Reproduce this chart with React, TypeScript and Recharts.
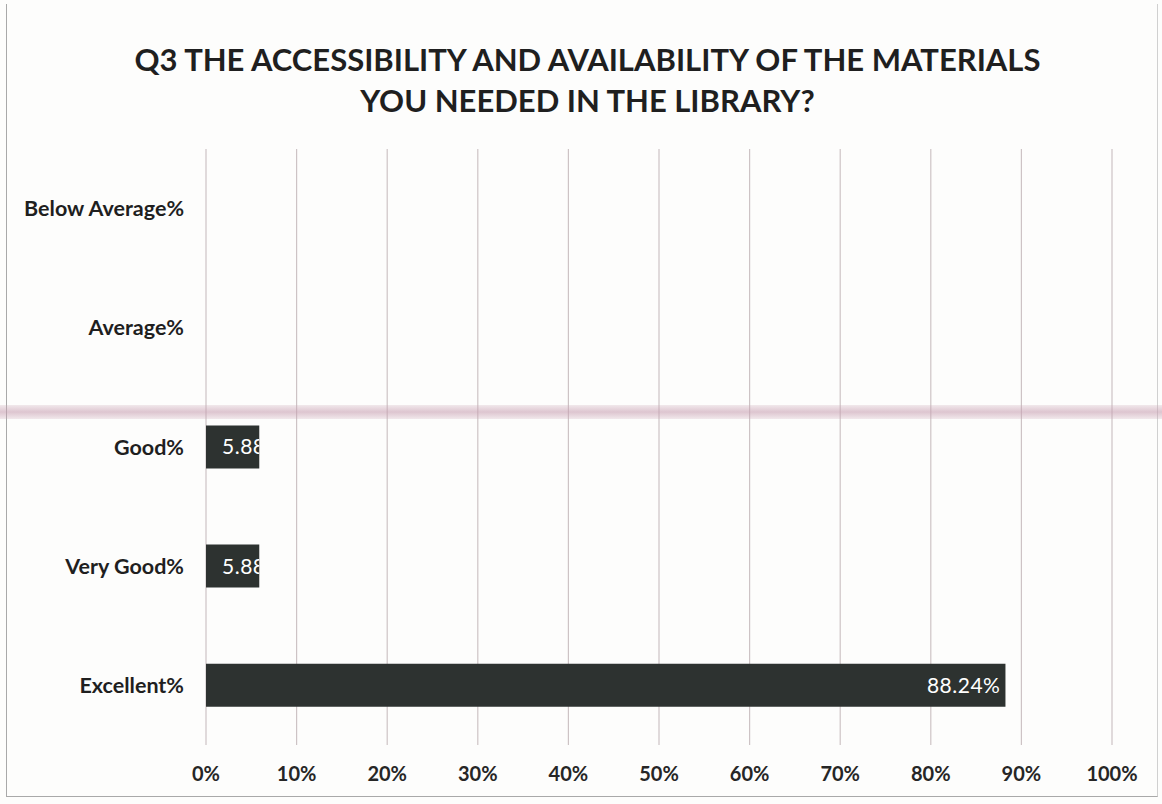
import { BarChart, Bar, XAxis, YAxis, CartesianGrid, LabelList } from "recharts";

const categories = ["Below Average%", "Average%", "Good%", "Very Good%", "Excellent%"];
const percents = [0, 0, 5.88, 5.88, 88.24];
const xTicks = [0, 10, 20, 30, 40, 50, 60, 70, 80, 90, 100];

const titleLines = [
    "Q3 THE ACCESSIBILITY AND AVAILABILITY OF THE MATERIALS",
    "YOU NEEDED IN THE LIBRARY?",
];

const rows = categories.map((name, i) => ({ name, value: percents[i] }));

const FONT = "Lato, 'Open Sans', sans-serif";
const BAR = "#2d3230";

// Excel-style inside-end label; when the bar is too short the text starts
// near the bar's left edge and gets cut off by the bar
function BarLabel(props: any) {
    const { x, y, width, height, value, index } = props;
    if (!value) return null;
    const text = `${Number(value).toFixed(2)}%`;
    const approx = text.length * 12;
    const cy = y + height / 2;
    if (approx + 10 < width) {
        return (
            <text
                x={x + width - 5}
                y={cy}
                dy="0.36em"
                textAnchor="end"
                fill="#fff"
                fontSize={21}
                fontFamily={FONT}
                letterSpacing={0.5}
            >
                {text}
            </text>
        );
    }
    const id = `lbl-clip-${index}`;
    return (
        <g>
            <defs>
                <clipPath id={id}>
                    <rect x={x} y={y} width={width} height={height} />
                </clipPath>
            </defs>
            <text
                x={x + 16}
                y={cy}
                dy="0.36em"
                textAnchor="start"
                fill="#fff"
                fontSize={21}
                fontFamily={FONT}
                letterSpacing={0.5}
                clipPath={`url(#${id})`}
            >
                {text}
            </text>
        </g>
    );
}

export default function App() {
    return (
        <div
            style={{
                position: "absolute",
                left: 0,
                top: 0,
                width: 1162,
                height: 804,
                background: "#fdfdfc",
                overflow: "hidden",
            }}
        >
            <div
                style={{
                    position: "absolute",
                    left: 6,
                    top: 4,
                    width: 1150,
                    height: 792,
                    borderLeft: "1px solid #a9a9a9",
                    borderBottom: "1px solid #a9a9a9",
                    borderRight: "1px solid #d0d0d0",
                }}
            />
            <div
                style={{
                    position: "absolute",
                    left: 0,
                    top: 39,
                    width: 1175,
                    textAlign: "center",
                    fontFamily: FONT,
                    fontWeight: 700,
                    fontSize: 31,
                    lineHeight: "41px",
                    color: "#1f1f1f",
                }}
            >
                {titleLines.map((t) => (
                    <div key={t}>{t}</div>
                ))}
            </div>
            <BarChart
                width={1162}
                height={804}
                data={rows}
                layout="vertical"
                margin={{ top: 149, right: 50, bottom: 0, left: 0 }}
                barSize={43}
            >
                <CartesianGrid horizontal={false} stroke="#cdc3c5" strokeWidth={1.2} />
                <XAxis
                    type="number"
                    domain={[0, 100]}
                    ticks={xTicks}
                    tickFormatter={(v) => `${v}%`}
                    axisLine={false}
                    tickLine={false}
                    tickSize={0}
                    tickMargin={22}
                    height={59}
                    interval={0}
                    tick={{ fill: "#262626", fontSize: 20, fontWeight: 700, fontFamily: FONT }}
                />
                <YAxis
                    type="category"
                    dataKey="name"
                    width={206}
                    axisLine={false}
                    tickLine={false}
                    tickSize={0}
                    tickMargin={22}
                    tick={{ fill: "#1f1f1f", fontSize: 21.5, fontWeight: 700, fontFamily: FONT }}
                />
                <Bar dataKey="value" fill={BAR} isAnimationActive={false}>
                    <LabelList dataKey="value" content={BarLabel} />
                </Bar>
            </BarChart>
            {/* pink scanner streak across the page */}
            <div
                style={{
                    position: "absolute",
                    left: 0,
                    top: 405,
                    width: 1162,
                    height: 14,
                    background:
                        "linear-gradient(to bottom, rgba(205,170,185,0.25), rgba(200,160,178,0.6), rgba(205,170,185,0.25))",
                    pointerEvents: "none",
                }}
            />
        </div>
    );
}
